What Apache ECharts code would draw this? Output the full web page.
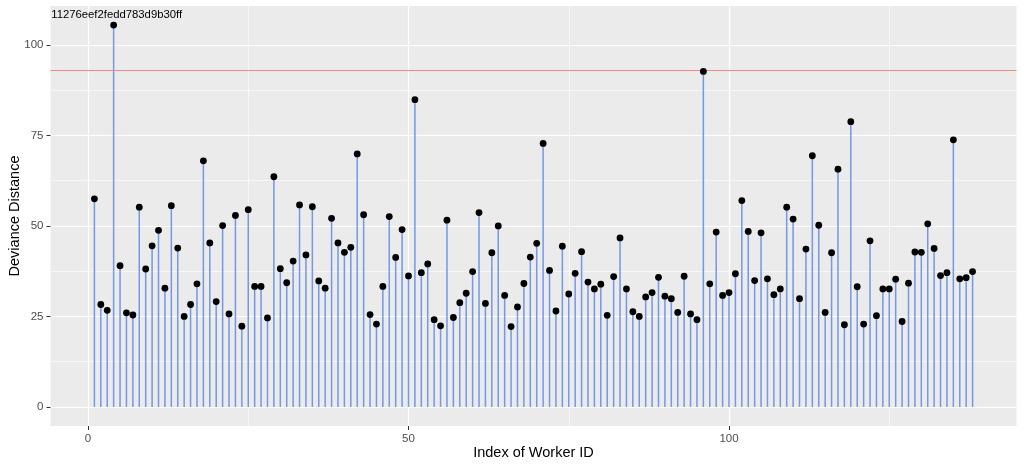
<!DOCTYPE html>
<html>
<head>
<meta charset="utf-8">
<script src="https://cdn.jsdelivr.net/npm/echarts@6/dist/echarts.min.js"></script>
<style>html,body{margin:0;padding:0;background:#fff}#c{width:1024px;height:468px}</style>
</head>
<body>
<div id="c"></div>
<script>
// Deviance distance per worker index (1..138)
const deviance = [
  57.5, 28.3, 26.7, 105.5, 39.0, 26.0, 25.4, 55.2, 38.1, 44.5,
  48.8, 32.8, 55.6, 43.9, 25.0, 28.3, 34.0, 68.0, 45.3, 29.1,
  50.1, 25.7, 52.9, 22.3, 54.5, 33.3, 33.3, 24.6, 63.6, 38.2,
  34.3, 40.3, 55.8, 42.0, 55.3, 34.8, 32.8, 52.1, 45.3, 42.7,
  44.1, 69.9, 53.1, 25.5, 22.9, 33.3, 52.6, 41.3, 49.0, 36.2,
  84.9, 37.1, 39.5, 24.1, 22.4, 51.6, 24.7, 28.8, 31.4, 37.4,
  53.7, 28.6, 42.6, 50.0, 30.8, 22.2, 27.6, 34.1, 41.4, 45.2,
  72.8, 37.7, 26.5, 44.4, 31.2, 36.9, 42.9, 34.5, 32.6, 33.9,
  25.3, 36.0, 46.7, 32.6, 26.3, 25.0, 30.4, 31.6, 35.8, 30.6,
  29.9, 26.1, 36.1, 25.7, 24.1, 92.7, 34.0, 48.3, 30.8, 31.6,
  36.8, 57.0, 48.5, 34.9, 48.1, 35.4, 31.0, 32.6, 55.2, 51.9,
  29.9, 43.6, 69.4, 50.2, 26.1, 42.6, 65.7, 22.7, 78.8, 33.2,
  22.9, 45.9, 25.2, 32.6, 32.6, 35.3, 23.6, 34.2, 42.8, 42.7,
  50.6, 43.8, 36.3, 37.1, 73.8, 35.4, 35.7, 37.4
];
const workerIndex = deviance.map((_, i) => i + 1);
const threshold = 92.9;
const outlierIndex = 4;
const outlierLabel = '11276eef2fedd783d9b30ff';

const xMajorTicks = [0, 50, 100];
const xMinorTicks = [25, 75, 125];
const yMajorTicks = [0, 25, 50, 75, 100];
const yMinorTicks = [12.5, 37.5, 62.5, 87.5];

const xName = 'Index of Worker ID';
const yName = 'Deviance Distance';

// ggplot-like expansion (5%)
const xMinData = 1, xMaxData = deviance.length;
const xPad = (xMaxData - xMinData) * 0.05;
const yMaxData = Math.max(...deviance);
const yPad = yMaxData * 0.05;

const pairs = workerIndex.map((x, i) => [x, deviance[i]]);

const gridLines = [];
xMajorTicks.forEach(v => gridLines.push({xAxis: v, lineStyle: {width: 1.2}}));
xMinorTicks.forEach(v => gridLines.push({xAxis: v, lineStyle: {width: 0.6}}));
yMajorTicks.forEach(v => gridLines.push({yAxis: v, lineStyle: {width: 1.2}}));
yMinorTicks.forEach(v => gridLines.push({yAxis: v, lineStyle: {width: 0.6}}));

const chart = echarts.init(document.getElementById('c'), null, {renderer: 'canvas'});
const font = 'Liberation Sans, Arial, sans-serif';
chart.setOption({
  animation: false,
  textStyle: {fontFamily: font},
  grid: {
    left: 50.5, right: 7.5, top: 6, bottom: 42,
    containLabel: false,
    outerBoundsMode: 'none',
    show: true, backgroundColor: '#EBEBEB', borderWidth: 0
  },
  xAxis: {
    type: 'value',
    min: xMinData - xPad,
    max: xMaxData + xPad,
    name: xName,
    nameLocation: 'middle',
    nameGap: 19,
    nameMoveOverlap: false,
    nameTextStyle: {color: '#000', fontSize: 14.5, fontFamily: font},
    axisLine: {show: false, onZero: false},
    axisTick: {show: true, length: 4, lineStyle: {color: '#333', width: 1}, customValues: xMajorTicks},
    axisLabel: {color: '#4D4D4D', fontSize: 11.5, margin: 7, customValues: xMajorTicks, fontFamily: font},
    splitLine: {show: false},
    minorSplitLine: {show: false}
  },
  yAxis: {
    type: 'value',
    min: -yPad,
    max: yMaxData + yPad,
    name: yName,
    nameLocation: 'middle',
    nameGap: 28,
    nameMoveOverlap: false,
    nameTextStyle: {color: '#000', fontSize: 14.5, fontFamily: font},
    axisLine: {show: false, onZero: false},
    axisTick: {show: true, length: 4, lineStyle: {color: '#333', width: 1}, customValues: yMajorTicks},
    axisLabel: {color: '#4D4D4D', fontSize: 11.5, margin: 7, customValues: yMajorTicks, fontFamily: font},
    splitLine: {show: false}
  },
  series: [
    {
      type: 'line',
      data: [],
      silent: true,
      z: 0,
      markLine: {
        z: 0,
        silent: true,
        symbol: 'none',
        label: {show: false},
        lineStyle: {color: '#FFFFFF', type: 'solid'},
        data: gridLines,
        animation: false
      }
    },
    {
      type: 'bar',
      data: pairs,
      barWidth: 1.5,
      itemStyle: {color: '#7398E6'},
      z: 2,
      silent: true
    },
    {
      type: 'line',
      data: [],
      z: 3,
      silent: true,
      markLine: {
        z: 3,
        silent: true,
        symbol: 'none',
        label: {show: false},
        lineStyle: {color: '#F28B7C', type: 'solid', width: 1.2},
        data: [{yAxis: threshold}],
        animation: false
      }
    },
    {
      type: 'scatter',
      symbol: 'circle',
      symbolSize: 6.8,
      itemStyle: {color: '#000', opacity: 1},
      z: 4,
      silent: true,
      data: pairs.map(p => p[0] === outlierIndex ? {
        value: p,
        label: {
          show: true, position: 'top', distance: 1, offset: [3, 0],
          formatter: outlierLabel, color: '#000', fontSize: 11.3, fontFamily: font
        }
      } : p)
    }
  ]
});
</script>
</body>
</html>
